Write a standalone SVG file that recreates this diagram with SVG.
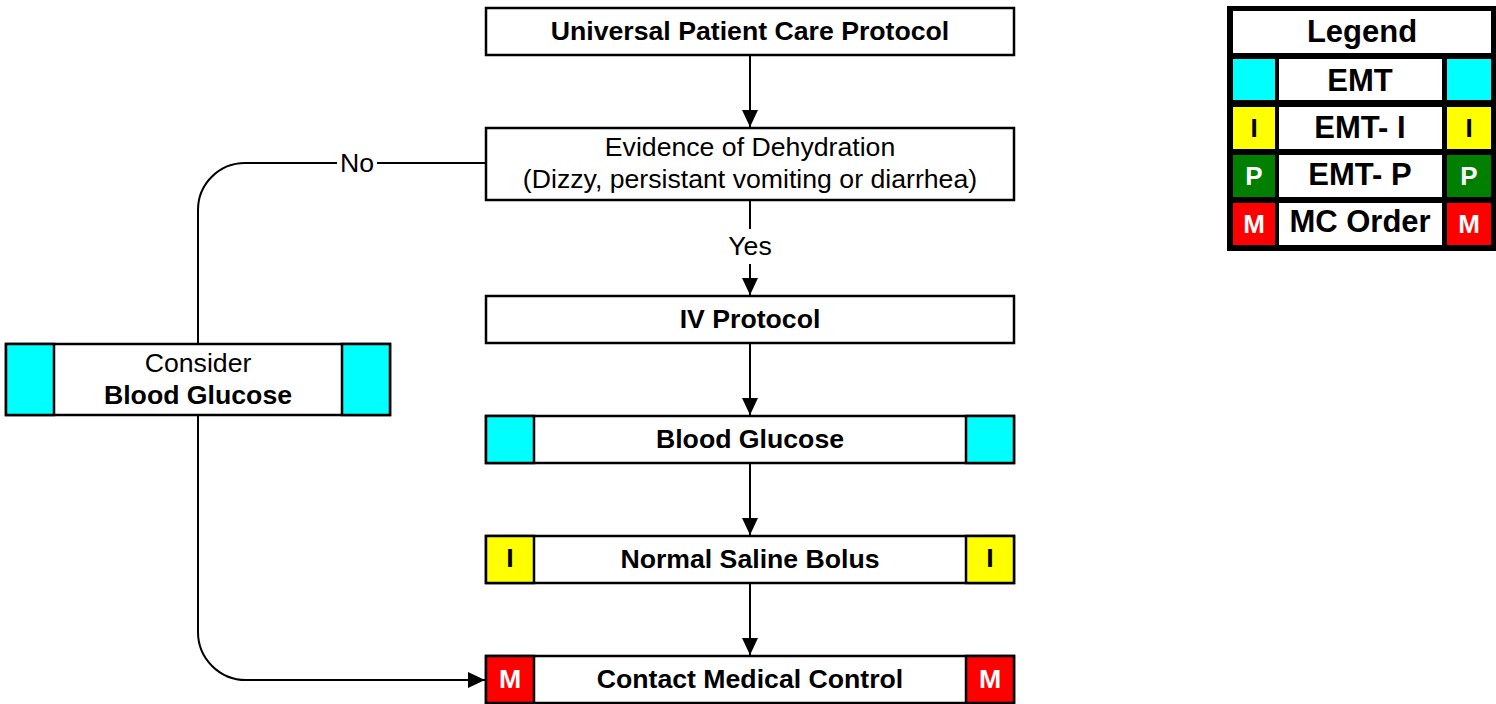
<svg xmlns="http://www.w3.org/2000/svg" width="1496" height="704" viewBox="0 0 1496 704">
<style>
.box{fill:#fff;stroke:#000;stroke-width:2.5}
.cy{fill:#00ffff;stroke:#000;stroke-width:2.5}
.ye{fill:#ffff00;stroke:#000;stroke-width:2.5}
.rd{fill:#ff0000;stroke:#000;stroke-width:2.5}
.t{font-family:"Liberation Sans",Arial,sans-serif;font-size:26.67px;text-anchor:middle;fill:#000}
.b{font-weight:bold}
.w{fill:#fff}
.lg{font-family:"Liberation Sans",Arial,sans-serif;font-size:31px;font-weight:bold;text-anchor:middle;fill:#000}
.ll{font-family:"Liberation Sans",Arial,sans-serif;font-size:26px;font-weight:bold;text-anchor:middle}
.c{fill:none;stroke:#000;stroke-width:2}
</style>
<defs>
<marker id="ah" markerUnits="userSpaceOnUse" markerWidth="18" markerHeight="18" refX="17" refY="8" orient="auto">
<path d="M0,0 L17,8 L0,16 z" fill="#000"/>
</marker>
</defs>
<rect width="1496" height="704" fill="#fff"/>
<g id="connectors">
<path class="c" d="M750,55 V127" marker-end="url(#ah)"/>
<path class="c" d="M750,200 V295" marker-end="url(#ah)"/>
<rect x="722" y="229" width="56" height="35" fill="#fff"/>
<text class="t" x="750" y="255">Yes</text>
<path class="c" d="M750,343 V415" marker-end="url(#ah)"/>
<path class="c" d="M750,463 V535" marker-end="url(#ah)"/>
<path class="c" d="M750,583 V655" marker-end="url(#ah)"/>
<path class="c" d="M486,163 H245 A47,47 0 0 0 198,210 V344"/>
<rect x="337" y="148" width="40" height="30" fill="#fff"/>
<text class="t" x="357" y="172">No</text>
<path class="c" d="M198,415 V632 A48,48 0 0 0 246,680 H485" marker-end="url(#ah)"/>
</g>
<g id="universal">
<rect class="box" x="486" y="8" width="528" height="47"/>
<text class="t b" x="750" y="40">Universal Patient Care Protocol</text>
</g>
<g id="evidence">
<rect class="box" x="486" y="128" width="528" height="72"/>
<text class="t" x="750" y="156">Evidence of Dehydration</text>
<text class="t" x="750" y="188">(Dizzy, persistant vomiting or diarrhea)</text>
</g>
<g id="iv">
<rect class="box" x="486" y="296" width="528" height="47"/>
<text class="t b" x="750" y="328">IV Protocol</text>
</g>
<g id="bloodglucose">
<rect class="box" x="486" y="416" width="528" height="47"/>
<rect class="cy" x="486" y="416" width="48" height="47"/>
<rect class="cy" x="966" y="416" width="48" height="47"/>
<text class="t b" x="750" y="448">Blood Glucose</text>
</g>
<g id="saline">
<rect class="box" x="486" y="536" width="528" height="47"/>
<rect class="ye" x="486" y="536" width="48" height="47"/>
<rect class="ye" x="966" y="536" width="48" height="47"/>
<text class="t b" x="510" y="567">I</text>
<text class="t b" x="990" y="567">I</text>
<text class="t b" x="750" y="568">Normal Saline Bolus</text>
</g>
<g id="contact">
<rect class="box" x="486" y="656" width="528" height="47"/>
<rect class="rd" x="486" y="656" width="48" height="47"/>
<rect class="rd" x="966" y="656" width="48" height="47"/>
<text class="t b w" x="510" y="688">M</text>
<text class="t b w" x="990" y="688">M</text>
<text class="t b" x="750" y="688">Contact Medical Control</text>
</g>
<g id="consider">
<rect class="box" x="6" y="344" width="384" height="71"/>
<rect class="cy" x="6" y="344" width="48" height="71"/>
<rect class="cy" x="342" y="344" width="48" height="71"/>
<text class="t" x="198" y="372">Consider</text>
<text class="t b" x="198" y="404">Blood Glucose</text>
</g>
<g id="legend">
<rect x="1227" y="6" width="269" height="245" fill="#000"/>
<rect x="1233" y="11" width="258" height="42" fill="#fff"/>
<text class="lg" x="1362" y="42">Legend</text>
<rect x="1233" y="59" width="42" height="41" fill="#00ffff"/>
<rect x="1279" y="59" width="163" height="41" fill="#fff"/>
<rect x="1447" y="59" width="44" height="41" fill="#00ffff"/>
<text class="lg" x="1360" y="91">EMT</text>
<rect x="1233" y="107" width="42" height="42" fill="#ffff00"/>
<rect x="1279" y="107" width="163" height="42" fill="#fff"/>
<rect x="1447" y="107" width="44" height="42" fill="#ffff00"/>
<text class="lg" x="1360" y="138">EMT- I</text>
<text class="ll" x="1254" y="137" fill="#000">I</text>
<text class="ll" x="1469" y="137" fill="#000">I</text>
<rect x="1233" y="155" width="42" height="42" fill="#007f00"/>
<rect x="1279" y="155" width="163" height="42" fill="#fff"/>
<rect x="1447" y="155" width="44" height="42" fill="#007f00"/>
<text class="lg" x="1360" y="185">EMT- P</text>
<text class="ll" x="1254" y="185" fill="#fff">P</text>
<text class="ll" x="1469" y="185" fill="#fff">P</text>
<rect x="1233" y="203" width="42" height="42" fill="#ff0000"/>
<rect x="1279" y="203" width="163" height="42" fill="#fff"/>
<rect x="1447" y="203" width="44" height="42" fill="#ff0000"/>
<text class="lg" x="1360" y="232">MC Order</text>
<text class="ll" x="1254" y="233" fill="#fff">M</text>
<text class="ll" x="1469" y="233" fill="#fff">M</text>
</g>
</svg>
